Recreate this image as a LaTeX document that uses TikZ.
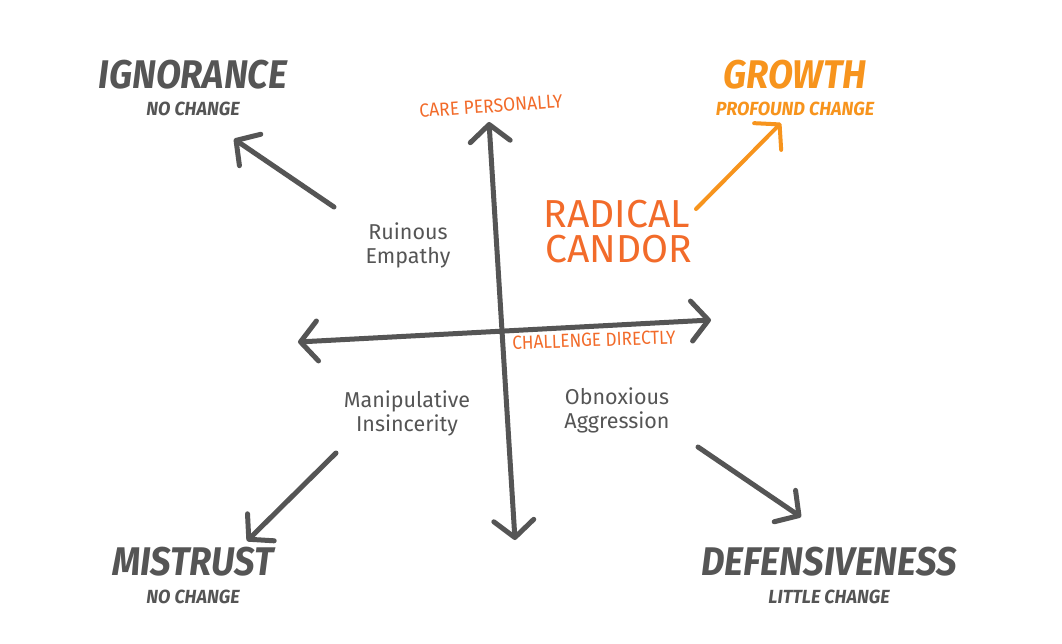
\documentclass[tikz,border=0pt]{standalone}
\usepackage{fontspec}
\usepackage{graphicx}
\setmainfont{Fira Sans}
\usetikzlibrary{arrows.meta}
\definecolor{ink}{HTML}{555555}
\definecolor{grow}{HTML}{F7941D}
\definecolor{rc}{HTML}{F26B2A}
\tikzset{
  big/.style={font=\bfseries\itshape\fontsize{40}{40}\selectfont, text=ink, inner sep=0pt},
  sub/.style={font=\bfseries\itshape\fontsize{19}{19}\selectfont, text=ink, inner sep=0pt},
  hand/.style={font=\fontsize{21.5}{24}\selectfont, text=ink, align=center, inner sep=0pt},
  axlab/.style={font=\fontsize{19}{19}\selectfont, text=rc, inner sep=0pt},
  rcstyle/.style={font=\fontsize{39}{39}\selectfont, text=rc, inner sep=0pt, text height=27pt, text depth=0pt},
  arr/.style={draw=ink, line width=5pt, line cap=round, line join=round,
    -{Straight Barb[length=17pt,width=38pt,round]}},
  darr/.style={draw=ink, line width=5pt, line cap=round, line join=round,
    {Straight Barb[length=17pt,width=40pt,round]}-{Straight Barb[length=17pt,width=40pt,round]}},
}
\begin{document}
\begin{tikzpicture}[x=1pt,y=-1pt]
\useasboundingbox[fill=white] (0,0) rectangle (1062,643);
% headings
\node[big] (ign) at (193,75) {\scalebox{0.91}[1]{IGNORANCE}};
\node[sub] (ignsub) at (193,109) {\scalebox{0.95}[1]{NO CHANGE}};
\node[big, text=grow] (gro) at (795,75) {\scalebox{0.91}[1]{GROWTH}};
\node[sub, text=grow] (grosub) at (795,109) {\scalebox{0.95}[1]{PROFOUND CHANGE}};
\node[big] (mis) at (193,562) {\scalebox{0.91}[1]{MISTRUST}};
\node[sub] (missub) at (193,597) {\scalebox{0.95}[1]{NO CHANGE}};
\node[big] (def) at (829,562) {\scalebox{0.91}[1]{DEFENSIVENESS}};
\node[sub] (defsub) at (829,597) {\scalebox{0.95}[1]{LITTLE CHANGE}};
% axis labels
\node[axlab, rotate=4] (care) at (491,106) {\scalebox{0.92}[1]{CARE PERSONALLY}};
\node[axlab, rotate=2] (chal) at (594,340) {\scalebox{0.9}[1]{CHALLENGE DIRECTLY}};
% radical candor
\node[rcstyle, anchor=base] (rad) at (617,227) {RADICAL};
\node[rcstyle, anchor=base] (cand) at (619,262) {CANDOR};
% quadrant labels
\node[hand] (ruin) at (408,245) {Ruinous\\Empathy};
\node[hand] (manip) at (407,413) {Manipulative\\Insincerity};
\node[hand] (obn) at (617,410) {Obnoxious\\Aggression};
% axes
\coordinate (vt) at (489,122);
\coordinate (vb) at (515,540);
\coordinate (hl) at (298,342);
\coordinate (hr) at (711,320);
\draw[darr] (vb) -- (vt);
\draw[darr] (hl) -- (hr);
% corner arrows
\coordinate (a1s) at (334,207);
\coordinate (a1e) at (234,139);
\draw[arr] (a1s) -- (a1e);
\coordinate (a2s) at (696,209);
\coordinate (a2e) at (781,123);
\draw[arr, draw=grow, line width=4pt] (a2s) -- (a2e);
\coordinate (a3s) at (336,453);
\coordinate (a3e) at (247,541);
\draw[arr] (a3s) -- (a3e);
\coordinate (a4s) at (698,447);
\coordinate (a4e) at (801,517);
\draw[arr] (a4s) -- (a4e);
\end{tikzpicture}
\end{document}
